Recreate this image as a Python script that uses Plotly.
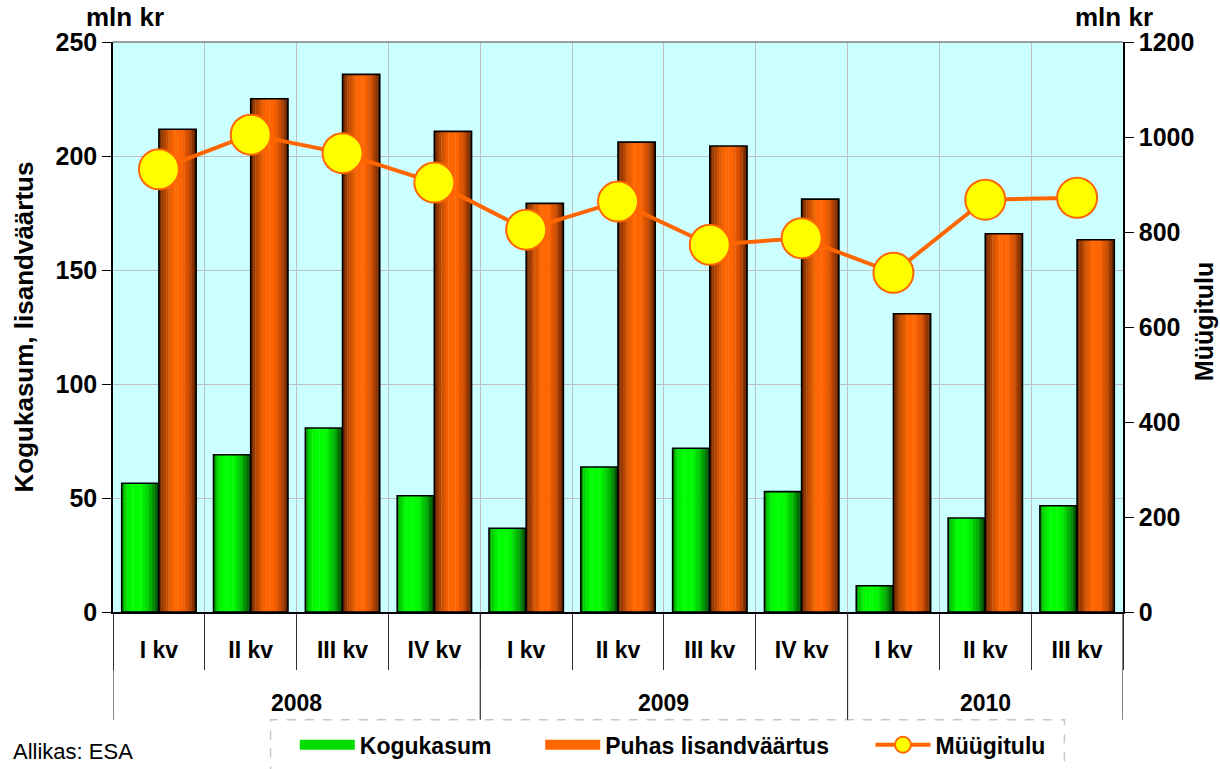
import plotly.graph_objects as go

# data (mln kr)
years = ["2008"] * 4 + ["2009"] * 4 + ["2010"] * 3
quarters = ["I kv", "II kv", "III kv", "IV kv",
            "I kv", "II kv", "III kv", "IV kv",
            "I kv", "II kv", "III kv"]
kogukasum = [56.5, 69.0, 80.7, 51.0, 36.7, 63.6, 71.8, 52.8, 11.5, 41.2, 46.6]
lisandvaartus = [211.7, 225.1, 235.8, 210.8, 179.2, 206.1, 204.4, 181.1, 130.8, 165.9, 163.3]
myygitulu = [932, 1005, 966, 904, 805, 864, 773, 787, 714, 868, 872]

pos = list(range(len(quarters)))
FONT = "Liberation Sans, Arial, sans-serif"
BAR_W = 0.405

# horizontal shading profiles (fraction across bar -> rgb)
GREEN_PROFILE = [(0.0, (0, 140, 0)), (0.12, (0, 225, 0)), (0.28, (0, 255, 0)),
                 (0.55, (0, 250, 0)), (0.8, (0, 170, 0)), (1.0, (0, 55, 0))]
ORANGE_PROFILE = [(0.0, (105, 38, 0)), (0.2, (200, 78, 0)), (0.4, (255, 102, 0)),
                  (0.6, (255, 100, 0)), (0.8, (205, 75, 0)), (1.0, (85, 30, 0))]


def shade(profile, t):
    for (a, ca), (b, cb) in zip(profile, profile[1:]):
        if a <= t <= b:
            f = (t - a) / (b - a)
            c = [round(ca[i] + (cb[i] - ca[i]) * f) for i in range(3)]
            return f"rgb({c[0]},{c[1]},{c[2]})"
    c = profile[-1][1]
    return f"rgb({c[0]},{c[1]},{c[2]})"


def add_shaded_bars(fig, values, left, profile, n=16):
    step = BAR_W / n
    for i in range(n):
        fig.add_trace(go.Bar(
            x=pos, y=values, offset=left + i * step, width=step * 1.15,
            marker=dict(color=shade(profile, (i + 0.5) / n), line_width=0),
            showlegend=False, hoverinfo="skip",
        ))
    fig.add_trace(go.Bar(
        x=pos, y=values, offset=left, width=BAR_W,
        marker=dict(color="rgba(0,0,0,0)", line=dict(color="black", width=1.6)),
        showlegend=False, hoverinfo="skip",
    ))


fig = go.Figure()
add_shaded_bars(fig, kogukasum, -BAR_W, GREEN_PROFILE)
add_shaded_bars(fig, lisandvaartus, 0.0, ORANGE_PROFILE)

fig.add_trace(go.Scatter(
    x=pos, y=myygitulu, name="Müügitulu", yaxis="y2", mode="lines+markers",
    line=dict(color="#ff6600", width=4),
    marker=dict(size=40, color="#ffff00", line=dict(color="#ff6600", width=2)),
    legend="legend3",
))

# legend-only entries for the bars (wide swatches)
fig.add_trace(go.Scatter(x=[None], y=[None], name="Kogukasum", legend="legend",
                         mode="lines", line=dict(color="#00dd00", width=14)))
fig.add_trace(go.Scatter(x=[None], y=[None], name="Puhas lisandväärtus", legend="legend2",
                         mode="lines", line=dict(color="#ff6600", width=14)))

legend_common = dict(orientation="h", yanchor="middle", y=-0.233, xanchor="left",
                     font=dict(size=23, weight="bold"), bgcolor="rgba(0,0,0,0)",
                     itemwidth=55)

fig.update_layout(
    width=1220, height=769,
    barmode="overlay",
    paper_bgcolor="white",
    plot_bgcolor="#ccffff",
    font=dict(family=FONT, size=23, color="black", weight="bold"),
    margin=dict(l=113, r=97, t=42, b=157, autoexpand=False),
    xaxis=dict(
        range=[-0.5, len(pos) - 0.5], automargin=False,
        tickvals=pos, ticktext=quarters, ticks="outside", ticklen=17,
        tickcolor="rgba(0,0,0,0)", showgrid=False, zeroline=False,
        showline=True, linecolor="black", linewidth=1.5,
        tickfont=dict(size=23, weight="bold"),
        minor=dict(tickvals=[p - 0.5 for p in pos] + [pos[-1] + 0.5],
                   ticks="outside", ticklen=56, tickcolor="#303030", tickwidth=1.2,
                   showgrid=True, gridcolor="#c0c0c0", gridwidth=1),
    ),
    yaxis=dict(
        range=[0, 250], dtick=50, showgrid=True, gridcolor="#c0c0c0",
        ticks="outside", ticklen=9, tickcolor="black", automargin=False,
        showline=True, linecolor="black", linewidth=1.5, zeroline=False,
        title=dict(text="Kogukasum, lisandväärtus", standoff=14,
                   font=dict(size=26, weight="bold")),
        tickfont=dict(size=25, weight="bold"),
    ),
    yaxis2=dict(
        range=[0, 1200], dtick=200, overlaying="y", side="right", showgrid=False,
        ticks="outside", ticklen=9, tickcolor="black", automargin=False,
        showline=True, linecolor="black", linewidth=1.5, zeroline=False,
        tickfont=dict(size=25, weight="bold"),
    ),
    legend=dict(legend_common, x=0.180),
    legend2=dict(legend_common, x=0.423),
    legend3=dict(legend_common, x=0.750),
    showlegend=True,
)

# year labels and dividers under the quarter labels
for yr in dict.fromkeys(years):
    idx = [p for p, y in zip(pos, years) if y == yr]
    fig.add_annotation(text=yr, x=sum(idx) / len(idx), xref="x", y=-0.159, yref="paper",
                       yanchor="middle", showarrow=False, font=dict(size=23, weight="bold"))
    fig.add_shape(type="line", xref="x", yref="paper", x0=idx[0] - 0.5, x1=idx[0] - 0.5,
                  y0=0, y1=-0.189, line=dict(color="#303030", width=1.2))
fig.add_shape(type="line", xref="x", yref="paper", x0=pos[-1] + 0.5, x1=pos[-1] + 0.5,
              y0=0, y1=-0.189, line=dict(color="#303030", width=1.2))

fig.add_shape(type="line", xref="paper", yref="paper", x0=0, x1=1, y0=1, y1=1,
              line=dict(color="#808080", width=1.5))
fig.add_shape(type="rect", xref="paper", yref="paper", x0=0.156, x1=0.942,
              y0=-0.29, y1=-0.189, line=dict(color="#c8c8c8", width=1.5, dash="dash"),
              fillcolor="white", layer="below")

# right axis title (kept inside the figure)
fig.add_annotation(text="Müügitulu", textangle=-90, xref="paper", yref="paper",
                   x=1.0805, y=0.509, xanchor="center", yanchor="middle",
                   showarrow=False, font=dict(size=25, weight="bold"))
fig.add_annotation(text="mln kr", xref="paper", yref="paper", x=0.012, y=1.043,
                   xanchor="center", yanchor="middle",
                   showarrow=False, font=dict(size=26, weight="bold"))
fig.add_annotation(text="mln kr", xref="paper", yref="paper", x=0.991, y=1.043,
                   xanchor="center", yanchor="middle",
                   showarrow=False, font=dict(size=26, weight="bold"))
fig.add_annotation(text="Allikas: ESA", xref="paper", yref="paper", x=-0.101, y=-0.245,
                   xanchor="left", yanchor="middle", showarrow=False,
                   font=dict(size=22, weight="normal"))

fig.write_html("out.html", config={"displayModeBar": False},
               post_script="document.body.style.margin='0px';")
